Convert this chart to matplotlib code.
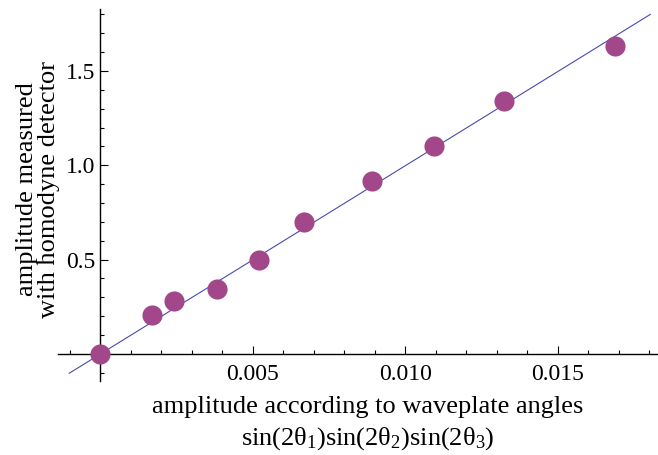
import numpy as np
import matplotlib
matplotlib.use("Agg")
import matplotlib.pyplot as plt
from matplotlib.ticker import MultipleLocator, FixedLocator

plt.rcParams['font.family'] = ['Liberation Serif', 'DejaVu Serif']
plt.rcParams['mathtext.fontset'] = 'custom'
plt.rcParams['mathtext.rm'] = 'Liberation Serif'
plt.rcParams['mathtext.it'] = 'Liberation Serif:italic'

# measured points
x_pred = [0.0, 0.00171, 0.00243, 0.00384, 0.00521, 0.00669, 0.00892, 0.01095, 0.01325, 0.01689]
y_meas = [0.0, 0.207, 0.281, 0.345, 0.498, 0.700, 0.917, 1.100, 1.340, 1.630]

# fitted line (end points)
fit_x = [-0.00102, 0.01804]
fit_y = [-0.103, 1.800]

x_major = [0.005, 0.010, 0.015]
x_labels = ["0.005", "0.010", "0.015"]
y_major = [0.5, 1.0, 1.5]
y_labels = ["0.5", "1.0", "1.5"]

W, H = 658, 455
fig = plt.figure(figsize=(W / 100, H / 100), dpi=100)

# axes box in pixels (data origin at ~ (100.3, 353.8))
x0, x1 = -0.00138, 0.0183
y0, y1 = -0.145, 1.83
left_px, right_px = 58.2, 658.3
top_px, bot_px = 8.7, 381.2
ax = fig.add_axes([left_px / W, (H - bot_px) / H, (right_px - left_px) / W, (bot_px - top_px) / H])

ax.plot(fit_x, fit_y, color='#4a4ab0', lw=0.8, zorder=2)
ax.plot(x_pred, y_meas, 'o', color='#a1478a', markersize=14.5, markeredgewidth=0, zorder=3)

ax.set_xlim(x0, x1)
ax.set_ylim(y0, y1)

for s in ['top', 'right']:
    ax.spines[s].set_visible(False)
ax.spines['left'].set_position(('data', 0))
ax.spines['bottom'].set_position(('data', 0))
ax.spines['left'].set_linewidth(1.0)
ax.spines['bottom'].set_linewidth(1.0)

ax.xaxis.set_major_locator(FixedLocator(x_major))
ax.set_xticklabels(x_labels)
ax.xaxis.set_minor_locator(MultipleLocator(0.001))
ax.yaxis.set_major_locator(FixedLocator(y_major))
ax.set_yticklabels(y_labels)
ax.yaxis.set_minor_locator(MultipleLocator(0.1))

ax.tick_params(which='both', direction='in', labelsize=17, width=0.8)
ax.tick_params(which='major', length=6)
ax.tick_params(which='minor', length=3)
ax.tick_params(axis='x', which='major', pad=7)
ax.tick_params(axis='y', which='major', pad=3.5)

# axis labels (two lines each, placed by baseline)
fs = 19
fig.text(368 / W, 1 - 413 / H, "amplitude according to waveplate angles",
         ha='center', va='baseline', fontsize=fs)
fig.text(368 / W, 1 - 445 / H, "sin(2θ$_1$)sin(2θ$_2$)sin(2θ$_3$)",
         ha='center', va='baseline', fontsize=fs)
fig.text(33 / W, 1 - 189 / H, "amplitude measured", rotation=90,
         rotation_mode='anchor', ha='center', va='baseline', fontsize=fs)
fig.text(55 / W, 1 - 189 / H, "with homodyne detector", rotation=90,
         rotation_mode='anchor', ha='center', va='baseline', fontsize=fs)

fig.savefig("out.png", dpi=100)
